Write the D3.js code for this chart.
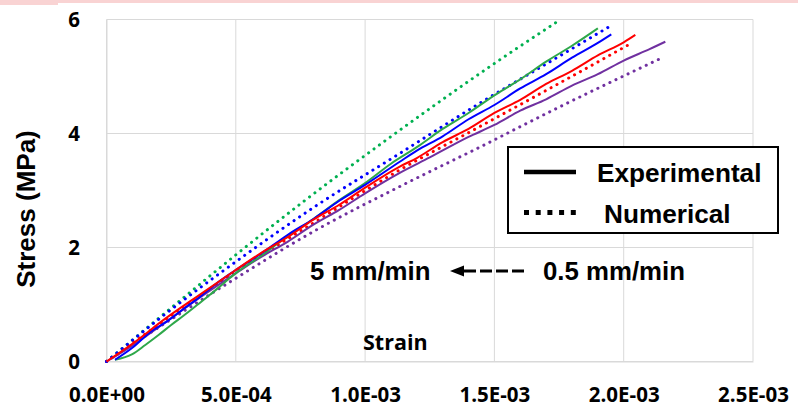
<!DOCTYPE html>
<html>
<head>
<meta charset="utf-8">
<script src="https://cdn.jsdelivr.net/npm/d3@7"></script>
<style>
  body { margin: 0; background: #fff; }
  .axis text { font-family: "Open Sans", sans-serif; font-weight: bold; fill: #000; }
  .lbl { font-family: "Liberation Sans", Arial, sans-serif; font-weight: bold; fill: #000; }
</style>
</head>
<body>
<div class="chart"></div>
<script>
// tick values + labels
const xTicks = [0, 5e-4, 1e-3, 1.5e-3, 2e-3, 2.5e-3]
const xTickLabels = ['0.0E+00', '5.0E-04', '1.0E-03', '1.5E-03', '2.0E-03', '2.5E-03']
const yTicks = [0, 2, 4, 6]

// experimental curves (solid)
const greenExpStrain = [3.3e-5, 1.0e-4, 1.5e-4, 2.0e-4, 2.5e-4, 3.0e-4, 3.5e-4, 4.0e-4, 4.5e-4, 5.0e-4, 6.0e-4, 7.0e-4, 8.0e-4, 9.0e-4, 1.0e-3, 1.1e-3, 1.2e-3, 1.3e-3, 1.4e-3, 1.5e-3, 1.6e-3, 1.7e-3, 1.8e-3, 1.9e-3]
const greenExpStress = [0.03, 0.13, 0.29, 0.46, 0.64, 0.81, 0.99, 1.17, 1.36, 1.55, 1.86, 2.20, 2.50, 2.83, 3.13, 3.47, 3.76, 4.08, 4.36, 4.67, 4.95, 5.26, 5.54, 5.846]
const blueExpStrain = [3.3e-5, 1.0e-4, 1.7e-4, 2.3e-4, 3.0e-4, 3.6e-4, 4.2e-4, 4.9e-4, 6.0e-4, 7.0e-4, 8.0e-4, 9.0e-4, 1.0e-3, 1.134e-3, 1.2e-3, 1.3e-3, 1.4e-3, 1.5e-3, 1.6e-3, 1.7e-3, 1.8e-3, 1.9e-3, 1.952e-3]
const blueExpStress = [0.03, 0.24, 0.52, 0.69, 0.93, 1.13, 1.35, 1.575, 1.90, 2.22, 2.50, 2.82, 3.10, 3.505, 3.70, 3.95, 4.25, 4.50, 4.79, 5.04, 5.33, 5.59, 5.74]
const redExpStrain = [0, 1.0e-4, 2.3e-4, 3.6e-4, 4.9e-4, 6.0e-4, 7.0e-4, 8.0e-4, 9.0e-4, 1.0e-3, 1.134e-3, 1.2e-3, 1.3e-3, 1.4e-3, 1.5e-3, 1.6e-3, 1.7e-3, 1.8e-3, 1.9e-3, 2.0e-3, 2.045e-3]
const redExpStress = [0, 0.31, 0.76, 1.17, 1.575, 1.91, 2.18, 2.49, 2.75, 3.05, 3.42, 3.57, 3.85, 4.08, 4.36, 4.59, 4.87, 5.10, 5.37, 5.60, 5.73]
const purpleExpStrain = [0, 1.0e-4, 2.5e-4, 3.6e-4, 5.0e-4, 6.0e-4, 7.0e-4, 8.0e-4, 9.0e-4, 1.0e-3, 1.134e-3, 1.25e-3, 1.4e-3, 1.5e-3, 1.6e-3, 1.7e-3, 1.8e-3, 1.9e-3, 2.0e-3, 2.1e-3, 2.161e-3]
const purpleExpStress = [0, 0.28, 0.76, 1.12, 1.547, 1.84, 2.10, 2.40, 2.66, 2.95, 3.31, 3.58, 3.94, 4.15, 4.40, 4.60, 4.84, 5.04, 5.28, 5.48, 5.61]

// numerical curves (dotted)
const greenNumStrain = [0, 2.5e-4, 5.0e-4, 7.6e-4, 1.083e-3, 1.52e-3, 1.756e-3]
const greenNumStress = [0, 0.94, 1.87, 2.80, 3.89, 5.29, 6.0]
const blueNumStrain = [0, 2.07e-4, 5.0e-4, 8.0e-4, 1.134e-3, 1.443e-3, 1.7e-3, 1.954e-3]
const blueNumStress = [0, 0.76, 1.75, 2.70, 3.65, 4.53, 5.22, 5.90]
const redNumStrain = [0, 2.5e-4, 5.0e-4, 8.0e-4, 1.134e-3, 1.443e-3, 1.75e-3, 2.032e-3]
const redNumStress = [0, 0.80, 1.575, 2.43, 3.36, 4.12, 4.88, 5.59]
const purpleNumStrain = [0, 2.5e-4, 5.0e-4, 8.0e-4, 1.134e-3, 1.443e-3, 1.74e-3, 2.149e-3]
const purpleNumStress = [0, 0.74, 1.46, 2.28, 3.07, 3.76, 4.44, 5.33]

const zip = (a, b) => a.map((v, i) => [v, b[i]])

// draw order matters a bit for overlaps near origin
const series = [
  {pts: zip(greenNumStrain, greenNumStress), color: '#00b050', dotted: true},
  {pts: zip(purpleNumStrain, purpleNumStress), color: '#7030a0', dotted: true},
  {pts: zip(redNumStrain, redNumStress), color: '#ff0000', dotted: true},
  {pts: zip(blueNumStrain, blueNumStress), color: '#0000ff', dotted: true},
  {pts: zip(purpleExpStrain, purpleExpStress), color: '#7030a0', dotted: false},
  {pts: zip(greenExpStrain, greenExpStress), color: '#2ea84a', dotted: false},
  {pts: zip(blueExpStrain, blueExpStress), color: '#0000ff', dotted: false},
  {pts: zip(redExpStrain, redExpStress), color: '#ff0000', dotted: false}
]

const W = 798, H = 410
const margin = ({top: 19.5, right: 45, bottom: 48.5, left: 106.5})
const width = W - margin.left - margin.right,
  height = H - margin.top - margin.bottom

const svg0 = d3.select('.chart').append('svg')
  .attr('width', W)
  .attr('height', H)

// pink strip along the top edge
svg0.append('rect').attr('x', 0).attr('y', 0).attr('width', W).attr('height', 3).attr('fill', '#f9d3d3')
svg0.append('rect').attr('x', 0).attr('y', 0).attr('width', 58).attr('height', 5).attr('fill', '#f9d3d3')

const svg = svg0.append('g')
  .attr('transform', `translate(${margin.left},${margin.top})`)

const x = d3.scaleLinear().domain([0, 2.5e-3]).range([0, width])
const y = d3.scaleLinear().domain([0, 6]).range([height, 0])

// grid
svg.selectAll('.vgrid').data(xTicks).enter().append('line')
  .attr('x1', d => x(d)).attr('x2', d => x(d))
  .attr('y1', 0).attr('y2', height)
  .attr('stroke', '#d9d9d9').attr('stroke-width', 1)
svg.selectAll('.hgrid').data(yTicks).enter().append('line')
  .attr('x1', 0).attr('x2', width)
  .attr('y1', d => y(d)).attr('y2', d => y(d))
  .attr('stroke', '#d9d9d9').attr('stroke-width', 1)

const xAxis = d3.axisBottom(x)
  .tickValues(xTicks)
  .tickFormat((d, i) => xTickLabels[i])
  .tickSize(0)
  .tickPadding(26)
svg.append('g')
  .attr('class', 'axis x-axis')
  .attr('transform', `translate(0,${height})`)
  .call(xAxis)
  .attr('font-size', 20.5)

const yAxis = d3.axisLeft(y)
  .tickValues(yTicks)
  .tickFormat(d3.format('d'))
  .tickSize(0)
  .tickPadding(26.5)
svg.append('g')
  .attr('class', 'axis y-axis')
  .call(yAxis)
  .attr('font-size', 20.5)

svg.selectAll('.domain').attr('stroke', '#d9d9d9')

const line = d3.line()
  .x(d => x(d[0]))
  .y(d => y(d[1]))
  .curve(d3.curveMonotoneX)

svg.selectAll('.series')
  .data(series)
  .enter()
  .append('path')
  .attr('fill', 'none')
  .attr('stroke', d => d.color)
  .attr('stroke-width', d => d.dotted ? 3 : 2)
  .attr('stroke-linecap', d => d.dotted ? 'round' : 'butt')
  .attr('stroke-dasharray', d => d.dotted ? '0.1 6.6' : null)
  .attr('d', d => line(d.pts))

// axis titles
svg0.append('text')
  .attr('class', 'lbl')
  .attr('transform', 'translate(35,209) rotate(-90)')
  .attr('text-anchor', 'middle')
  .attr('font-size', 26)
  .text('Stress (MPa)')
svg0.append('text')
  .attr('x', 363).attr('y', 350)
  .attr('font-family', '"Open Sans", sans-serif')
  .attr('font-weight', 'bold')
  .attr('font-size', 21.5)
  .text('Strain')

// legend box
const lg = svg0.append('g')
lg.append('rect')
  .attr('x', 508).attr('y', 147)
  .attr('width', 270).attr('height', 86)
  .attr('fill', '#fff').attr('stroke', '#000').attr('stroke-width', 2)
lg.append('line')
  .attr('x1', 524).attr('x2', 576).attr('y1', 172).attr('y2', 172)
  .attr('stroke', '#000').attr('stroke-width', 4.5)
lg.append('line')
  .attr('x1', 524).attr('x2', 576).attr('y1', 212.5).attr('y2', 212.5)
  .attr('stroke', '#000').attr('stroke-width', 5)
  .attr('stroke-dasharray', '5 6.7')
lg.append('text').attr('class', 'lbl')
  .attr('x', 597).attr('y', 182).attr('font-size', 26.2)
  .text('Experimental')
lg.append('text').attr('class', 'lbl')
  .attr('x', 604).attr('y', 223).attr('font-size', 26.2)
  .text('Numerical')

// rate annotation
svg0.append('text').attr('class', 'lbl')
  .attr('x', 310).attr('y', 280).attr('font-size', 25.8)
  .text('5 mm/min')
svg0.append('text').attr('class', 'lbl')
  .attr('x', 543).attr('y', 280).attr('font-size', 25.8)
  .text('0.5 mm/min')
svg0.append('path')
  .attr('d', 'M450,271 L464,265.5 L464,276.5 Z')
  .attr('fill', '#000')
svg0.append('line')
  .attr('x1', 464).attr('x2', 528).attr('y1', 271).attr('y2', 271)
  .attr('stroke', '#000').attr('stroke-width', 3)
  .attr('stroke-dasharray', '12 4')
</script>
</body>
</html>
